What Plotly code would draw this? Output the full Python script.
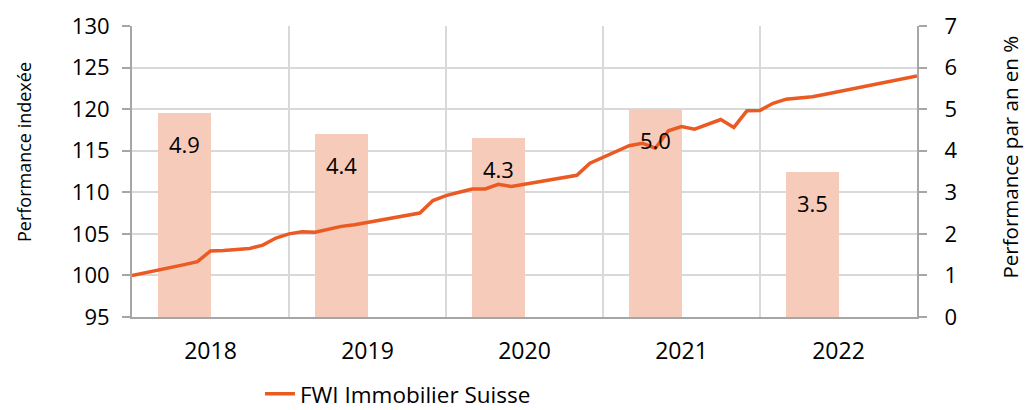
import numpy as np
import plotly.graph_objects as go

# ---------------- data ----------------
years = ["2018", "2019", "2020", "2021", "2022"]
annual_perf = [4.9, 4.4, 4.3, 5.0, 3.5]          # % per year (right axis)
index_values = [                                  # monthly index, Dec 2017 = 100 (left axis)
    100.0, 100.3, 100.65, 101.0, 101.3, 101.65, 102.95, 103.0, 103.1, 103.25,
    103.65, 104.5, 105.0, 105.25, 105.2, 105.6, 105.9, 106.1, 106.4, 106.7,
    107.0, 107.2, 107.5, 109.0, 109.6, 110.0, 110.4, 110.4, 110.95, 110.7,
    110.95, 111.2, 111.45, 111.7, 112.05, 113.5, 114.2, 115.0, 115.6, 115.9,
    115.3, 117.4, 117.9, 117.6, 118.2, 118.75, 117.8, 119.8, 119.85, 120.7,
    121.2, 121.35, 121.5, 121.8, 122.1, 122.4, 122.7, 123.05, 123.4, 123.7,
    124.0,
]
series_name = "FWI Immobilier Suisse"
left_title = "Performance indexée"
right_title = "Performance par an en %"

# ---------------- styles ----------------
FONT = "Open Sans"
LINE_COLOR = "#EB5A22"
BAR_COLOR = "#F7CBBA"
GRID = "#D9D9D9"
AXIS = "#A6A6A6"
MPY = 12                   # months per year
BAR_W = 4                  # bar width in months
BAR_OFF = -4               # bar starts 4 months left of the year centre

months = np.arange(len(index_values))
year_centers = [i * MPY + MPY / 2 for i in range(len(years))]

fig = go.Figure()
fig.add_trace(go.Bar(
    x=year_centers, y=annual_perf, width=BAR_W, offset=BAR_OFF,
    marker=dict(color=BAR_COLOR, line=dict(width=0)),
    yaxis="y", showlegend=False, hoverinfo="skip",
))
fig.add_trace(go.Scatter(
    x=months, y=index_values, mode="lines", name=series_name,
    line=dict(color=LINE_COLOR, width=3.5), yaxis="y2",
))

annotations = []
for xc, v in zip(year_centers, annual_perf):
    annotations.append(dict(
        x=xc + BAR_OFF + BAR_W / 2, y=v, xref="x", yref="y",
        text=f"{v:.1f}", showarrow=False, yshift=-31,
        xanchor="center", yanchor="middle",
        font=dict(family=FONT, size=22, color="black"),
    ))
annotations.append(dict(
    x=-0.1376, y=0.567, xref="paper", yref="paper", text=left_title,
    xanchor="center", yanchor="middle",
    textangle=-90, showarrow=False, font=dict(family=FONT, size=18, color="black"),
))
annotations.append(dict(
    x=1.1185, y=0.548, xref="paper", yref="paper", text=right_title,
    xanchor="center", yanchor="middle",
    textangle=-90, showarrow=False, font=dict(family=FONT, size=20.5, color="black"),
))

tickfont = dict(family=FONT, size=22, color="black")
fig.update_layout(
    width=1033, height=410,
    margin=dict(l=132, r=116, t=26, b=93, autoexpand=False),
    paper_bgcolor="white", plot_bgcolor="white",
    font=dict(family=FONT, color="black"),
    bargap=0,
    xaxis=dict(
        range=[0, len(years) * MPY], tickvals=year_centers, ticktext=years,
        showgrid=False, ticks="", showline=True, linecolor=AXIS, linewidth=2,
        zeroline=False, tickfont=dict(family=FONT, size=23, color="black"),
        ticklabelstandoff=12, automargin=False,
        minor=dict(tick0=0, dtick=MPY, showgrid=True, gridcolor=GRID, gridwidth=2, ticks=""),
    ),
    yaxis=dict(
        side="right", range=[0, 7], dtick=1, showgrid=True, gridcolor=GRID, gridwidth=2,
        showline=True, linecolor=AXIS, linewidth=2, ticks="outside", ticklen=8,
        tickcolor=AXIS, tickwidth=2, zeroline=False, tickfont=tickfont,
        ticklabelstandoff=13, automargin=False,
    ),
    yaxis2=dict(
        overlaying="y", side="left", range=[95, 130], dtick=5, showgrid=False,
        showline=True, linecolor=AXIS, linewidth=2, ticks="outside", ticklen=8,
        tickcolor=AXIS, tickwidth=2, zeroline=False, tickfont=tickfont,
        ticklabelstandoff=8, automargin=False,
    ),
    legend=dict(
        orientation="h", x=0.163, y=-0.265, xanchor="left", yanchor="middle",
        font=dict(family=FONT, size=22.5, color="black"), bgcolor="rgba(0,0,0,0)",
        borderwidth=0,
    ),
    annotations=annotations,
)

fig.write_html("out.html", config={"displayModeBar": False},
               post_script="document.body.style.margin='0';")
